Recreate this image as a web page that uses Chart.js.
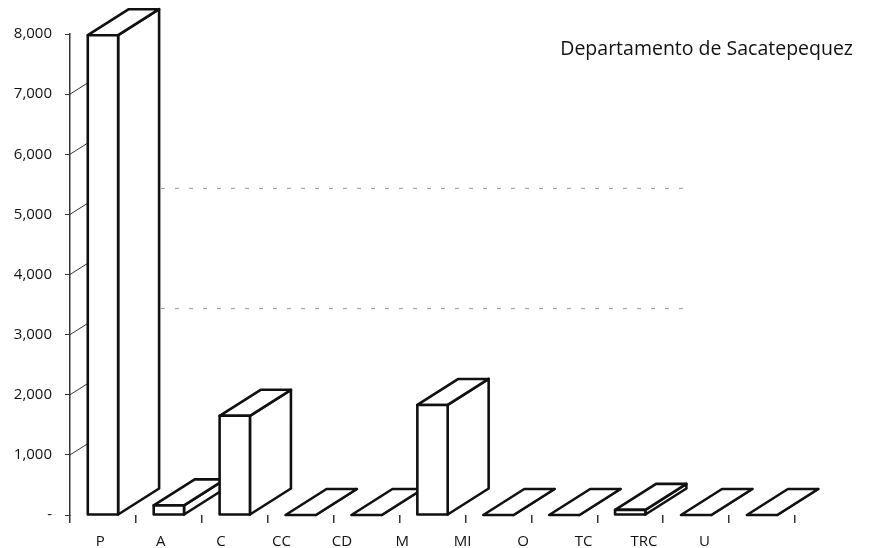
<!DOCTYPE html>
<html>
<head>
<meta charset="utf-8">
<script src="https://cdn.jsdelivr.net/npm/chart.js@4"></script>
<style>
html, body { margin:0; padding:0; background:#fff; }
#wrap { width:893px; height:548px; }
</style>
</head>
<body>
<div id="wrap"><canvas id="myChart" width="893" height="548"></canvas></div>
<script>
var categorias = ['P', 'A', 'C', 'CC', 'CD', 'M', 'MI', 'O', 'TC', 'TRC', 'U'];
var valores = [7980, 160, 1650, 0, 0, 1830, 0, 0, 85, 0, 0];
// the printed labels sit on a slightly tighter spacing than the bars
var etiquetasX = ['P', 'A', 'C', 'CC', 'CD', 'M', 'MI', 'O', 'TC', 'TRC', 'U', ''];
var marcasY = [0, 1000, 2000, 3000, 4000, 5000, 6000, 7000, 8000];
var lineasFondo = [3000, 5000];
var titulo = 'Departamento de Sacatepequez';

var dx = 41, dy = -26;
var tinta = '#111';

function poligono(ctx, pts) {
  ctx.beginPath();
  ctx.moveTo(pts[0][0], pts[0][1]);
  for (var i = 1; i < pts.length; i++) ctx.lineTo(pts[i][0], pts[i][1]);
  ctx.closePath();
  ctx.fill();
  ctx.stroke();
}

// back wall lines + diagonal ticks
var fondo = {
  id: 'fondo',
  beforeDatasetsDraw(chart) {
    var ctx = chart.ctx, y = chart.scales.y, a = chart.chartArea;
    ctx.save();
    ctx.strokeStyle = '#999';
    ctx.lineWidth = 1;
    ctx.setLineDash([4, 10]);
    lineasFondo.forEach(function (v) {
      var py = y.getPixelForValue(v) + dy;
      ctx.beginPath();
      ctx.moveTo(a.left + dx + 50, py);
      ctx.lineTo(690, py);
      ctx.stroke();
    });
    ctx.setLineDash([]);
    ctx.strokeStyle = '#333';
    marcasY.forEach(function (v) {
      if (v === 0 || v === 8000) return;
      var py = y.getPixelForValue(v);
      ctx.beginPath();
      ctx.moveTo(a.left, py);
      ctx.lineTo(a.left + 19, py - 12);
      ctx.stroke();
    });
    ctx.restore();
  }
};

// draws each bar as a box, left to right so later ones cover earlier ones
var profundidad = {
  id: 'profundidad',
  afterDatasetsDraw(chart) {
    var ctx = chart.ctx, meta = chart.getDatasetMeta(0);
    ctx.save();
    ctx.lineWidth = 2.6;
    ctx.strokeStyle = tinta;
    ctx.fillStyle = '#fff';
    ctx.lineJoin = 'round';
    meta.data.forEach(function (bar) {
      var p = bar.getProps(['x', 'y', 'base', 'width'], true);
      var l = p.x - p.width / 2, r = p.x + p.width / 2, t = p.y, b = p.base;
      poligono(ctx, [[r, t], [r + dx, t + dy], [r + dx, b + dy], [r, b]]);
      poligono(ctx, [[l, t], [l + dx, t + dy], [r + dx, t + dy], [r, t]]);
      if (b - t > 0.5) poligono(ctx, [[l, t], [r, t], [r, b], [l, b]]);
    });
    ctx.restore();
  }
};

var tituloPlugin = {
  id: 'tituloPlugin',
  afterDraw(chart) {
    var ctx = chart.ctx;
    ctx.save();
    ctx.font = '19.5px "Open Sans"';
    ctx.fillStyle = tinta;
    ctx.textAlign = 'right';
    ctx.textBaseline = 'middle';
    ctx.fillText(titulo, 853, 49);
    ctx.restore();
  }
};

const ctx = document.getElementById('myChart');

new Chart(ctx, {
  type: 'bar',
  data: {
    labels: categorias,
    datasets: [{
      label: 'Sacatepequez',
      data: valores,
      backgroundColor: '#fff',
      borderColor: tinta,
      borderWidth: 0,
      barPercentage: 0.46,
      categoryPercentage: 1
    }]
  },
  options: {
    responsive: false,
    devicePixelRatio: 1,
    animation: false,
    layout: { padding: { top: 34, right: 98, left: 0, bottom: 0 } },
    plugins: {
      legend: { display: false },
      title: { display: false },
      tooltip: { enabled: false }
    },
    scales: {
      x: {
        offset: true,
        border: { display: false },
        grid: { drawOnChartArea: false, drawTicks: true, tickLength: 8, color: '#333', lineWidth: 1.5 },
        ticks: { display: false },
        afterFit: function (s) { s.height = 8; }
      },
      xl: {
        type: 'category',
        position: 'bottom',
        labels: etiquetasX,
        offset: true,
        border: { display: false },
        grid: { display: false },
        ticks: { color: tinta, font: { family: 'Open Sans', size: 15 }, padding: 2, maxRotation: 0, autoSkip: false },
        afterFit: function (s) { s.height = 25; }
      },
      y: {
        min: 0,
        max: 8000,
        border: { display: true, color: '#333', width: 1.5 },
        grid: { drawOnChartArea: false, drawTicks: true, tickLength: 5, color: '#333' },
        afterBuildTicks: function (s) { s.ticks = marcasY.map(function (v) { return { value: v }; }); },
        ticks: {
          color: tinta,
          padding: 13,
          font: { family: 'Open Sans', size: 15 },
          callback: function (v) { return v === 0 ? '-' : v.toLocaleString('en-US'); }
        },
        afterFit: function (s) { s.width = 70; }
      }
    }
  },
  plugins: [fondo, profundidad, tituloPlugin]
});
</script>
</body>
</html>
